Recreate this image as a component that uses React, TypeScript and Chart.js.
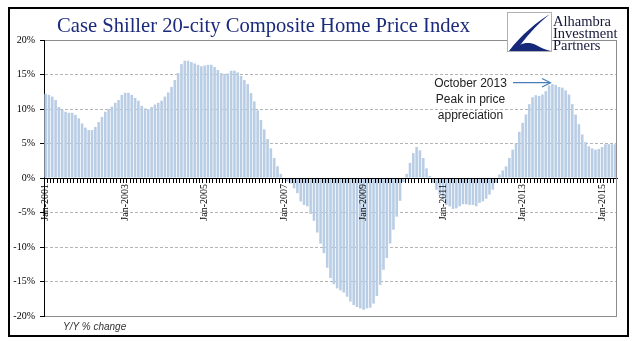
import React, { useEffect, useRef } from "react";
import { Chart, registerables } from "chart.js";

Chart.register(...registerables);

// ---- data (Y/Y % change, monthly) ----
const startYear = 2001;
const monthNames = ["Jan", "Feb", "Mar", "Apr", "May", "Jun", "Jul", "Aug", "Sep", "Oct", "Nov", "Dec"];

const y2001 = [12.2, 12.05, 11.8, 11.3, 10.3, 9.9, 9.6, 9.45, 9.45, 9.15, 8.65, 7.9];
const y2002 = [7.3, 6.95, 6.95, 7.4, 8.1, 8.85, 9.6, 10.0, 10.35, 10.9, 11.3, 12.05];
const y2003 = [12.35, 12.35, 12.05, 11.6, 11.2, 10.45, 10.1, 9.95, 10.3, 10.65, 10.9, 11.2];
const y2004 = [11.8, 12.4, 13.2, 14.2, 15.2, 16.5, 17.0, 17.0, 16.8, 16.6, 16.4, 16.2];
const y2005 = [16.3, 16.4, 16.4, 16.1, 15.65, 15.2, 15.1, 15.15, 15.55, 15.55, 15.3, 14.8];
const y2006 = [14.2, 13.6, 12.3, 11.1, 9.8, 8.4, 7.05, 5.65, 4.3, 2.9, 1.7, 0.6];
const y2007 = [-0.2, -0.5, -0.8, -1.5, -2.2, -3.4, -3.9, -4.1, -5.2, -6.2, -7.9, -9.5];
const y2008 = [-10.9, -13.0, -14.5, -15.4, -16.0, -16.3, -16.6, -17.2, -17.9, -18.4, -18.7, -18.9];
const y2009 = [-19.1, -18.9, -18.8, -18.2, -17.1, -15.5, -13.3, -11.6, -9.5, -7.5, -5.6, -3.3];
const y2010 = [-0.6, 0.6, 2.2, 3.6, 4.5, 4.0, 2.9, 1.4, 0.3, -0.7, -1.7, -2.4];
const y2011 = [-3.1, -3.9, -4.1, -4.5, -4.4, -4.1, -3.8, -3.8, -3.9, -3.9, -4.1, -3.6];
const y2012 = [-3.4, -3.0, -2.4, -1.7, -0.7, 0.5, 1.1, 1.7, 2.9, 4.1, 5.0, 6.7];
const y2013 = [8.0, 9.2, 10.7, 11.7, 12.0, 11.9, 12.1, 12.6, 13.4, 13.6, 13.5, 13.2];
const y2014 = [13.1, 12.7, 12.1, 10.7, 9.2, 7.8, 6.3, 5.2, 4.6, 4.3, 4.1, 4.2];
const y2015 = [4.5, 4.9, 4.9, 4.9, 4.9];

const yoyChange = [
  ...y2001, ...y2002, ...y2003, ...y2004, ...y2005, ...y2006, ...y2007, ...y2008,
  ...y2009, ...y2010, ...y2011, ...y2012, ...y2013, ...y2014, ...y2015,
];

const categories = yoyChange.map(
  (_, i) => `${monthNames[i % 12]}-${startYear + Math.floor(i / 12)}`
);
const labeledCategories = ["Jan-2001", "Jan-2003", "Jan-2005", "Jan-2007", "Jan-2009", "Jan-2011", "Jan-2013", "Jan-2015"];

const yMin = -20;
const yMax = 20;
const yStep = 5;

const titleText = "Case Shiller 20-city Composite Home Price Index";
const logoLines = ["Alhambra", "Investment", "Partners"];
const noteLines = ["October 2013", "Peak in price", "appreciation"];
const unitText = "Y/Y % change";

const rightBorder = {
  id: "rightBorder",
  afterDraw(chart: any) {
    const { ctx, chartArea } = chart;
    ctx.save();
    ctx.strokeStyle = "#8c8c8c";
    ctx.lineWidth = 1;
    ctx.beginPath();
    const x = Math.round(chartArea.right) - 0.5;
    ctx.moveTo(x, chartArea.top);
    ctx.lineTo(x, chartArea.bottom);
    ctx.stroke();
    ctx.restore();
  },
};

function BarChart() {
  const ref = useRef<HTMLCanvasElement | null>(null);
  useEffect(() => {
    if (!ref.current) return;
    const chart = new Chart(ref.current, {
      type: "bar",
      data: {
        labels: categories,
        datasets: [
          {
            data: yoyChange,
            backgroundColor: "#b9cde5",
            borderWidth: 0,
            barPercentage: 0.78,
            categoryPercentage: 1,
          },
        ],
      },
      options: {
        animation: false,
        responsive: false,
        maintainAspectRatio: false,
        layout: { padding: { left: 0, right: 24, top: 40, bottom: 25 } },
        plugins: {
          legend: { display: false },
          tooltip: { enabled: false },
          title: { display: false },
        },
        scales: {
          x: {
            type: "category",
            position: { y: 0 } as any,
            offset: true,
            grid: {
              drawOnChartArea: false,
              drawTicks: true,
              tickLength: 4,
              tickColor: "#000",
              tickWidth: 1,
              offset: true,
              z: 1,
            },
            border: { display: true, color: "#000", width: 1, z: 1 },
            ticks: {
              autoSkip: false,
              maxRotation: 90,
              minRotation: 90,
              padding: 2,
              color: "#000",
              z: 1,
              font: { family: "'Liberation Serif', serif", size: 10 },
              callback: (_v: any, i: number) =>
                labeledCategories.includes(categories[i]) ? categories[i] : "",
            },
          },
          y: {
            min: yMin,
            max: yMax,
            afterFit: (s: any) => {
              s.width = 44;
            },
            grid: {
              color: (ctx: any) => {
                const v = ctx.tick ? ctx.tick.value : 0;
                if (v === 0) return "#000";
                if (v === yMax || v === yMin) return "#8c8c8c";
                return "#b4b4b4";
              },
              lineWidth: 1,
              drawTicks: true,
              tickLength: 4,
              tickColor: "#000",
              z: -1,
            },
            border: {
              display: true,
              color: "#000",
              width: 1,
              dash: (ctx: any) => {
                const v = ctx.tick ? ctx.tick.value : 0;
                return v !== 0 && v !== yMax && v !== yMin ? [3, 2] : [];
              },
            },
            ticks: {
              stepSize: yStep,
              padding: 5,
              color: "#000",
              font: { family: "'Liberation Serif', serif", size: 10 },
              callback: (v: any) => `${v}%`,
            },
          },
        },
      },
      plugins: [rightBorder],
    });
    return () => chart.destroy();
  }, []);
  return (
    <canvas
      ref={ref}
      width={641}
      height={341}
      style={{ position: "absolute", left: 0, top: 0, width: 641, height: 341 }}
    />
  );
}

export default function App() {
  return (
    <div
      style={{
        position: "absolute",
        left: 0,
        top: 0,
        width: 641,
        height: 341,
        background: "#fff",
        overflow: "hidden",
      }}
    >
      <BarChart />
      {/* outer frame */}
      <div
        style={{
          position: "absolute",
          left: 8,
          top: 7,
          width: 621,
          height: 330,
          border: "2px solid #000",
          boxSizing: "border-box",
          pointerEvents: "none",
        }}
      />
      {/* title */}
      <div
        style={{
          position: "absolute",
          left: 57,
          top: 14.8,
          fontFamily: "'Liberation Serif', serif",
          fontSize: 20.6,
          lineHeight: "20.6px",
          color: "#1b2a7a",
          whiteSpace: "nowrap",
        }}
      >
        {titleText}
      </div>
      {/* logo */}
      <svg
        width={641}
        height={341}
        style={{ position: "absolute", left: 0, top: 0, pointerEvents: "none" }}
      >
        <rect x={507.5} y={12.5} width={44} height={39} fill="#fff" stroke="#b0b0b0" strokeWidth={1} />
        <path d="M550,14 C538,21 521,35 509,51 L516,51 C525,38 537,24 550,14 Z" fill="#16287a" />
        <path d="M513,51 C519,43 528,41 536,45 C541,48 546,50 551,51 Z" fill="#16287a" />
        <line x1={513} y1={82.7} x2={550} y2={82.7} stroke="#4a7ebb" strokeWidth={1.2} />
        <polyline points="542,78.5 550.5,82.7 542,87" fill="none" stroke="#4a7ebb" strokeWidth={1.2} />
      </svg>
      <div
        style={{
          position: "absolute",
          left: 553,
          top: 14.6,
          fontFamily: "'Liberation Serif', serif",
          fontSize: 14.5,
          lineHeight: "12.2px",
          color: "#15183a",
          whiteSpace: "nowrap",
        }}
      >
        {logoLines.map((l) => (
          <div key={l}>{l}</div>
        ))}
      </div>
      {/* annotation */}
      <div
        style={{
          position: "absolute",
          left: 420,
          width: 101,
          top: 75.1,
          fontFamily: "'Liberation Sans', sans-serif",
          fontSize: 12,
          lineHeight: "16px",
          color: "#222",
          textAlign: "center",
          whiteSpace: "nowrap",
        }}
      >
        {noteLines.map((l) => (
          <div key={l}>{l}</div>
        ))}
      </div>
      {/* unit label */}
      <div
        style={{
          position: "absolute",
          left: 63,
          top: 321.5,
          fontFamily: "'Liberation Sans', sans-serif",
          fontStyle: "italic",
          fontSize: 10,
          lineHeight: "10px",
          color: "#333",
          whiteSpace: "nowrap",
        }}
      >
        {unitText}
      </div>
    </div>
  );
}
